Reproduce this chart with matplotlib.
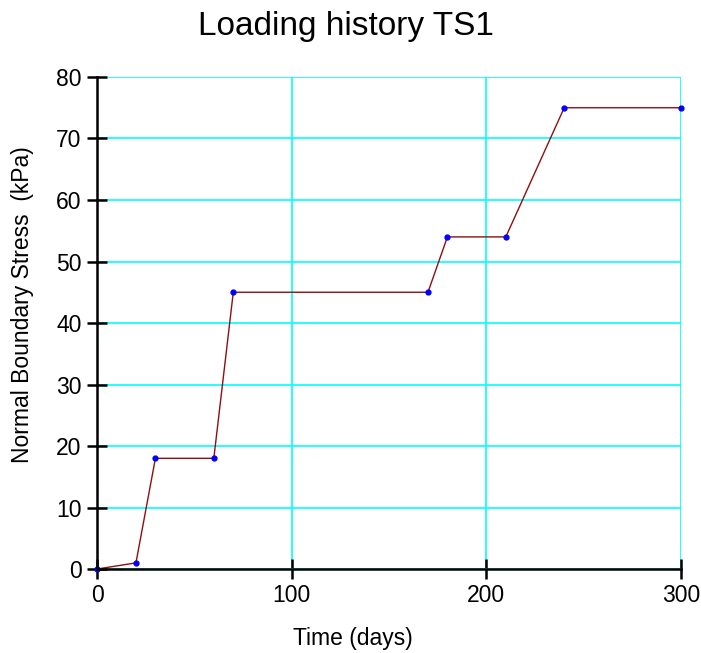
import matplotlib
matplotlib.use("Agg")
import matplotlib.pyplot as plt

time_days = [0, 20, 30, 60, 70, 170, 180, 210, 240, 300]
stress_kpa = [0, 1, 18, 18, 45, 45, 54, 54, 75, 75]
x_ticks = [0, 100, 200, 300]
y_ticks = [0, 10, 20, 30, 40, 50, 60, 70, 80]

plt.rcParams['font.family'] = ['Liberation Sans', 'DejaVu Sans']

fig = plt.figure(figsize=(7.01, 6.53), dpi=100)
ax = fig.add_axes([0.1384, 0.1286, 0.8331, 0.7535])

ax.plot(time_days, stress_kpa, color='#8B1010', lw=1.0, zorder=3)
ax.plot(time_days, stress_kpa, ls='none', marker='o', ms=3.5, color='#0000FF',
        mec='#0000FF', zorder=4, clip_on=False)

ax.set_xlim(0, 300)
ax.set_ylim(0, 80)
ax.set_xticks(x_ticks)
ax.set_yticks(y_ticks)
ax.grid(True, color='#00FFFF', lw=1.2, zorder=0)
ax.set_axisbelow(True)

for s in ['top', 'right']:
    ax.spines[s].set_visible(False)
for s in ['left', 'bottom']:
    ax.spines[s].set_linewidth(1.8)
    ax.spines[s].set_color('black')
    ax.spines[s].set_zorder(5)

ax.tick_params(axis='both', direction='inout', length=14, width=1.8, labelsize=16.5, pad=4)

fig.text(353 / 701, 1 - 639 / 653, 'Time (days)', fontsize=16.5, ha='center', va='center')
fig.text(23 / 701, 1 - 305 / 653, 'Normal Boundary Stress  (kPa)', fontsize=16.5,
         ha='center', va='center', rotation=90)
fig.text(346 / 701, 1 - 26 / 653, 'Loading history TS1', fontsize=24, ha='center', va='center')

fig.savefig('out.png', dpi=100)
